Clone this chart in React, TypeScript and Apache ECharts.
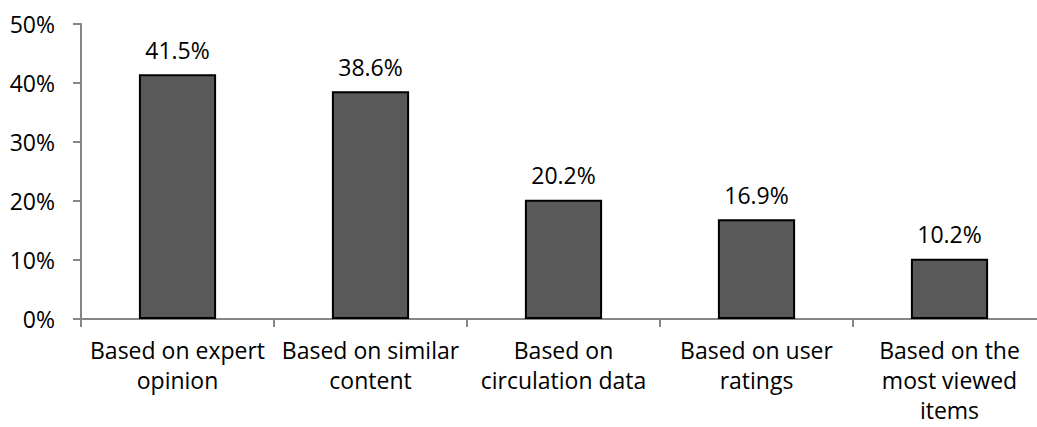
import React, { useEffect, useRef } from "react";
import * as echarts from "echarts";

const categories = [
  "Based on expert\nopinion",
  "Based on similar\ncontent",
  "Based on\ncirculation data",
  "Based on user\nratings",
  "Based on the\nmost viewed\nitems",
];
const values = [41.5, 38.6, 20.2, 16.9, 10.2];
const yTicks = [0, 10, 20, 30, 40, 50];

const FONT = "'Open Sans', sans-serif";

export default function App() {
  const ref = useRef<HTMLDivElement>(null);
  useEffect(() => {
    if (!ref.current) return;
    const chart = echarts.init(ref.current, undefined, { renderer: "svg" });
    chart.setOption({
      animation: false,
      backgroundColor: "#ffffff",
      grid: { left: 81, right: -9, top: 24, bottom: 108, outerBoundsMode: "none", containLabel: false },
      xAxis: {
        type: "category",
        data: categories,
        axisLine: { lineStyle: { color: "#868686", width: 2 } },
        axisTick: { show: true, alignWithLabel: false, length: 8, lineStyle: { color: "#868686", width: 2 } },
        axisLabel: {
          color: "#000",
          fontFamily: FONT,
          fontSize: 23,
          lineHeight: 30,
          margin: 16,
          interval: 0,
          align: "center",
        },
      },
      yAxis: {
        type: "value",
        min: yTicks[0],
        max: yTicks[yTicks.length - 1],
        interval: 10,
        axisLine: { show: true, lineStyle: { color: "#868686", width: 2 } },
        axisTick: { show: true, length: 8, lineStyle: { color: "#868686", width: 2 } },
        splitLine: { show: false },
        axisLabel: {
          color: "#000",
          fontFamily: FONT,
          fontSize: 23,
          margin: 26,
          formatter: (v: number) => `${v}%`,
        },
      },
      series: [
        {
          type: "bar",
          data: values,
          barWidth: "40%",
          itemStyle: { color: "#595959", borderColor: "#000", borderWidth: 2 },
          label: {
            show: true,
            position: "top",
            distance: 13,
            color: "#000",
            fontFamily: FONT,
            fontSize: 23,
            formatter: (p: any) => `${p.value.toFixed(1)}%`,
          },
        },
      ],
    });
    return () => chart.dispose();
  }, []);
  return (
    <div
      ref={ref}
      style={{ position: "fixed", left: 0, top: 0, width: 1037, height: 427 }}
    />
  );
}
